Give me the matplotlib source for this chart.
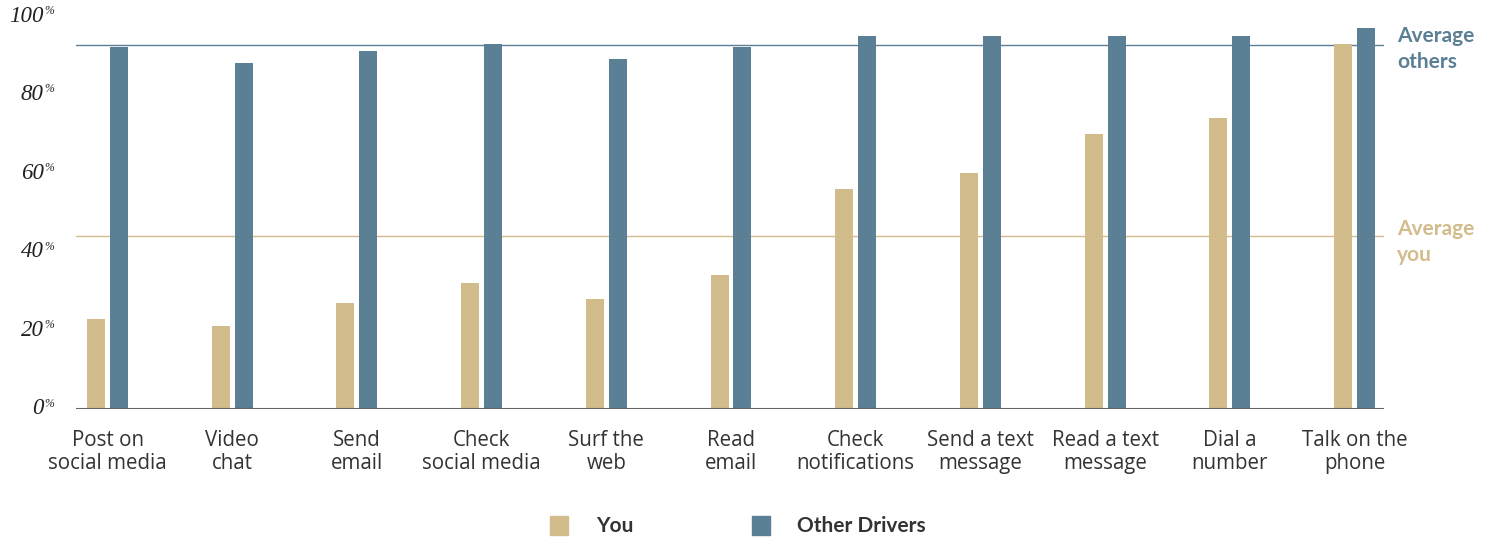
import numpy as np
import matplotlib.pyplot as plt
from matplotlib.patches import Rectangle
from matplotlib.transforms import blended_transform_factory

activities = ["Post on\nsocial media", "Video\nchat", "Send\nemail", "Check\nsocial media",
              "Surf the\nweb", "Read\nemail", "Check\nnotifications", "Send a text\nmessage",
              "Read a text\nmessage", "Dial a\nnumber", "Talk on the\nphone"]
you = [23, 21, 27, 32, 28, 34, 56, 60, 70, 74, 93]
others = [92, 88, 91, 93, 89, 92, 95, 95, 95, 95, 97]
avg_you = 44
avg_others = 92.6
yticks = [0, 20, 40, 60, 80, 100]

you_col = "#d3bc8c"
oth_col = "#5b7f95"
txt_col = "#333333"

fig = plt.figure(figsize=(14.97, 5.37), dpi=100)
ax = fig.add_axes([76/1497, 128/537, (1384-76)/1497, (409-16)/537])

x = np.arange(len(activities))
w = 0.144
ax.bar(x - 0.092, you, w, color=you_col, zorder=3)
ax.bar(x + 0.092, others, w, color=oth_col, zorder=3)

ax.axhline(avg_others, color=oth_col, lw=1.0, zorder=2)
ax.axhline(avg_you, color=you_col, lw=1.0, zorder=2)
ax.axhline(0, color="#666666", lw=1.5, zorder=4)

ax.set_xlim(-0.253, 10.237)
ax.set_ylim(0, 100)
for s in ax.spines.values():
    s.set_visible(False)
ax.set_xticks(x)
ax.set_xticklabels(activities, fontsize=14.8, color=txt_col, family="Open Sans",
                   linespacing=1.15)
ax.tick_params(axis="x", length=0, pad=15)
ax.set_yticks([])

# y tick labels: italic numbers with a small raised percent sign
tr = blended_transform_factory(fig.transFigure, ax.transData)
for v in yticks:
    ax.text(44/1497, v, str(v), transform=tr, ha="right", va="center",
            fontsize=16.5, style="italic", family="Liberation Serif", color="#222222")
    ax.text(44/1497, v + 1.3, "%", transform=tr, ha="left", va="center",
            fontsize=8.5, style="italic", family="Liberation Serif", color="#222222")

# labels for the average lines
ax.text(1397/1497, avg_others - 1.0, "Average\nothers", transform=tr, ha="left",
        va="center", fontsize=15, weight="bold", color=oth_col, family="Lato",
        linespacing=1.4, clip_on=False)
ax.text(1397/1497, avg_you - 1.5, "Average\nyou", transform=tr, ha="left",
        va="center", fontsize=15, weight="bold", color=you_col, family="Lato",
        linespacing=1.4, clip_on=False)

# legend
fig.patches.append(Rectangle((550/1497, (537-535)/537), 18/1497, 19/537,
                             transform=fig.transFigure, color=you_col))
fig.text(596/1497, (537-526)/537, "You", ha="left", va="center", fontsize=15,
         weight="bold", color=txt_col, family="Lato")
fig.patches.append(Rectangle((752/1497, (537-535)/537), 18/1497, 19/537,
                             transform=fig.transFigure, color=oth_col))
fig.text(797/1497, (537-526)/537, "Other Drivers", ha="left", va="center",
         fontsize=15, weight="bold", color=txt_col, family="Lato")

fig.savefig("out.png", dpi=100)
